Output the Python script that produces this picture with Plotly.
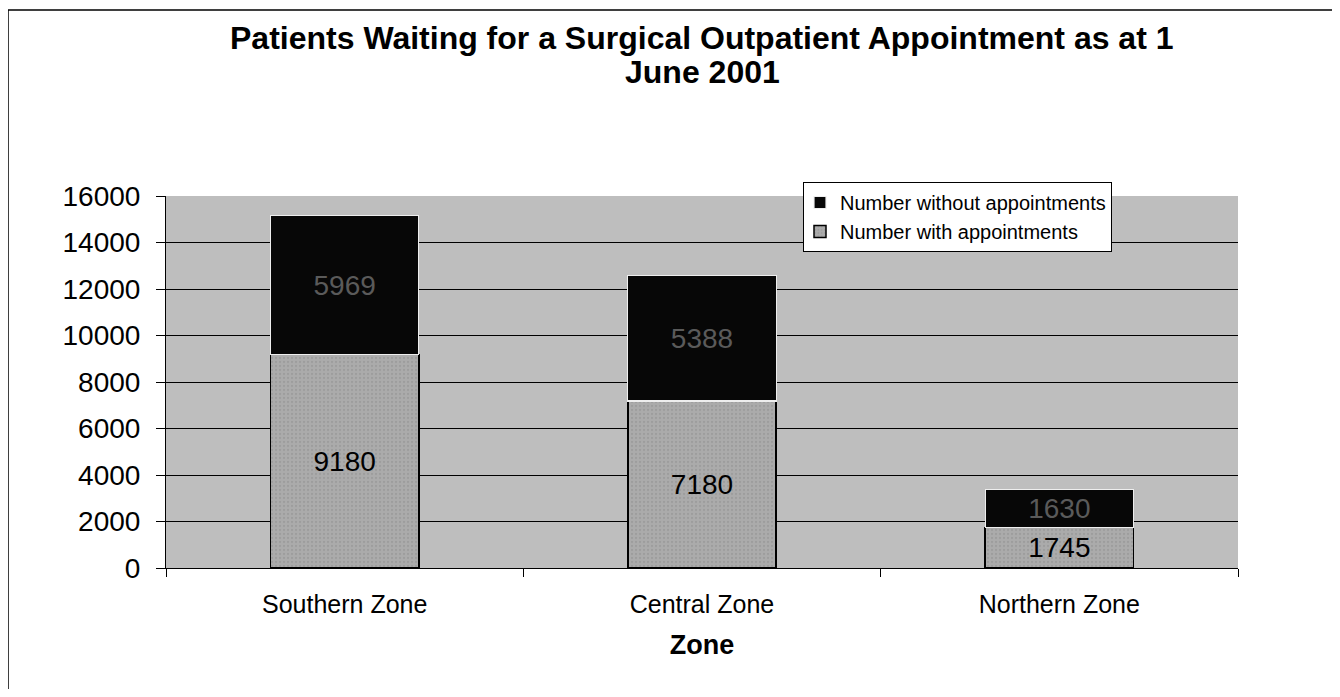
import plotly.graph_objects as go

zones = ["Southern Zone", "Central Zone", "Northern Zone"]
with_appt = [9180, 7180, 1745]
without_appt = [5969, 5388, 1630]
y_ticks = [0, 2000, 4000, 6000, 8000, 10000, 12000, 14000, 16000]
y_tick_text = [str(v) for v in y_ticks]
title_line1 = "Patients Waiting for a Surgical Outpatient Appointment as at 1"
title_line2 = "June 2001"

# page body adds an 8px margin, so the figure is sized to fit the 1340x697 window
OFF = 8
W, H = 1340 - 2 * OFF, 697 - 2 * OFF
# plot area in window pixels
PX0, PX1, PY0, PY1 = 166, 1238, 196, 568
L, R = PX0 - OFF, W - (PX1 - OFF)
T, B = PY0 - OFF, H - (PY1 - OFF)


def px(x):
    return (x - PX0) / (PX1 - PX0)


def py(y):
    return (PY1 - y) / (PY1 - PY0)


fig = go.Figure()
fig.add_trace(go.Bar(
    x=zones, y=with_appt, name="Number with appointments",
    marker=dict(color="#ababab", line=dict(color="black", width=1.5),
                pattern=dict(shape=".", fgcolor="#8e8e8e", size=4, solidity=0.25)),
    text=[str(v) for v in with_appt], textposition="inside", insidetextanchor="middle",
    textfont=dict(family="Arial", size=28, color="black"), width=0.415,
))
fig.add_trace(go.Bar(
    x=zones, y=without_appt, name="Number without appointments",
    marker=dict(color="#070707", line=dict(color="#eeeeee", width=1.2)),
    text=[str(v) for v in without_appt], textposition="inside", insidetextanchor="middle",
    textfont=dict(family="Arial", size=28, color="#5a5a5a"), width=0.415,
))

fig.update_layout(
    width=W, height=H,
    barmode="stack",
    paper_bgcolor="white", plot_bgcolor="#bebebe",
    margin=dict(l=L, r=R, t=T, b=B, autoexpand=False),
    font=dict(family="Arial", color="black"),
    showlegend=True,
    legend=dict(x=px(803), y=py(182), xanchor="left", yanchor="top",
                traceorder="reversed", bgcolor="white", bordercolor="black", borderwidth=1,
                font=dict(family="Arial", size=20, color="black"),
                itemwidth=30, tracegroupgap=0, indentation=-4),
    xaxis=dict(title=dict(text="<b>Zone</b>", font=dict(family="Arial", size=27), standoff=18),
               tickfont=dict(family="Arial", size=25), showline=True, linecolor="black",
               ticks="outside", tickson="boundaries", ticklen=8, tickcolor="black",
               ticklabelstandoff=14, showgrid=False),
    yaxis=dict(range=[0, 16000], tickvals=y_ticks, ticktext=y_tick_text,
               tickfont=dict(family="Arial", size=28),
               showline=True, linecolor="black", ticks="outside", ticklen=9, tickcolor="black",
               ticklabelstandoff=10,
               showgrid=True, gridcolor="black", gridwidth=1, zeroline=False),
    annotations=[
        dict(text="<b>" + title_line1 + "</b>", xref="paper", yref="paper",
             x=0.5, y=py(38), xanchor="center", yanchor="middle", showarrow=False,
             font=dict(family="Arial", size=32, color="black")),
        dict(text="<b>" + title_line2 + "</b>", xref="paper", yref="paper",
             x=0.5, y=py(72), xanchor="center", yanchor="middle", showarrow=False,
             font=dict(family="Arial", size=32, color="black")),
    ],
    shapes=[dict(type="rect", xref="paper", yref="paper",
                 x0=px(8), x1=px(1334), y0=py(692), y1=py(10),
                 line=dict(color="black", width=1.5), fillcolor="rgba(0,0,0,0)", layer="below")],
)

fig.write_html("out.html")
